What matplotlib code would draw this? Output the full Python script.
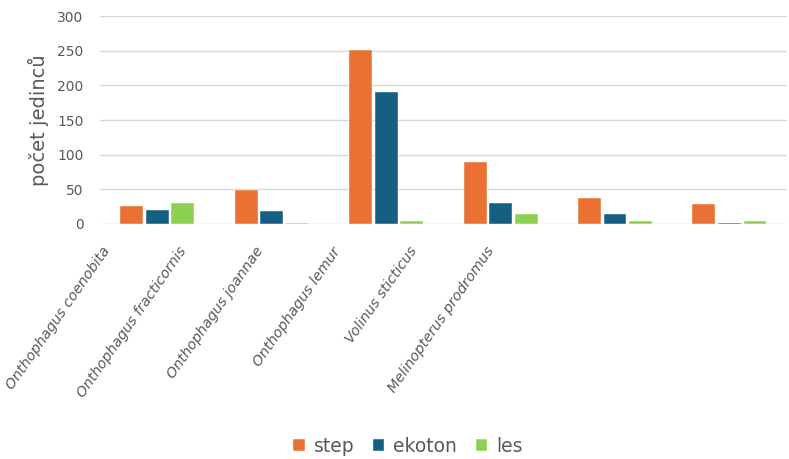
import matplotlib
matplotlib.use("Agg")
import matplotlib.pyplot as plt
import numpy as np

species = ["Onthophagus coenobita", "Onthophagus fracticornis", "Onthophagus joannae",
           "Onthophagus lemur", "Volinus sticticus", "Melinopterus prodromus"]
step = [26, 49, 251, 90, 38, 29]
ekoton = [20, 19, 191, 31, 15, 2]
les = [31, 2, 4, 14, 4, 4]
series_names = ["step", "ekoton", "les"]
colors = ["#E97132", "#156082", "#8ED150"]
yticks = [0, 50, 100, 150, 200, 250, 300]

plt.rcParams["font.family"] = ["DejaVu Sans"]
text_color = "#595959"

fig = plt.figure(figsize=(7.89, 4.59), dpi=100)
ax = fig.add_axes([0.127, 0.512, 0.870, 0.453])

x = np.arange(len(species))
offset = 0.223
width = 0.2
for i, (vals, name, col) in enumerate(zip([step, ekoton, les], series_names, colors)):
    ax.bar(x + (i - 1) * offset, vals, width=width, color=col, label=name,
           edgecolor="white", linewidth=0.3, zorder=3)

ax.set_xlim(-0.5, len(species) - 0.5)
ax.set_ylim(0, 300)
ax.set_yticks(yticks)
ax.tick_params(axis="y", length=0, pad=12, labelsize=10, labelcolor=text_color)
ax.set_xticks([])
ax.grid(axis="y", color="#d9d9d9", linewidth=1.0, zorder=0)
for s in ax.spines.values():
    s.set_visible(False)

ax.set_ylabel("počet jedinců", fontsize=14, color=text_color, labelpad=6)

# rotated species names below the axis
for i, name in enumerate(species):
    ax.text(0.010 + 0.112 * i, -0.118, name, transform=ax.transAxes,
            rotation=55, rotation_mode="anchor", ha="right", va="center",
            fontsize=10.3, style="italic", color=text_color)

fig.legend(loc="center", bbox_to_anchor=(0.517, 0.028), ncol=3, frameon=False,
           fontsize=13.5, labelcolor=text_color, handlelength=0.6, handleheight=0.6,
           handletextpad=0.48, columnspacing=1.0)

fig.savefig("out.png", dpi=100)
